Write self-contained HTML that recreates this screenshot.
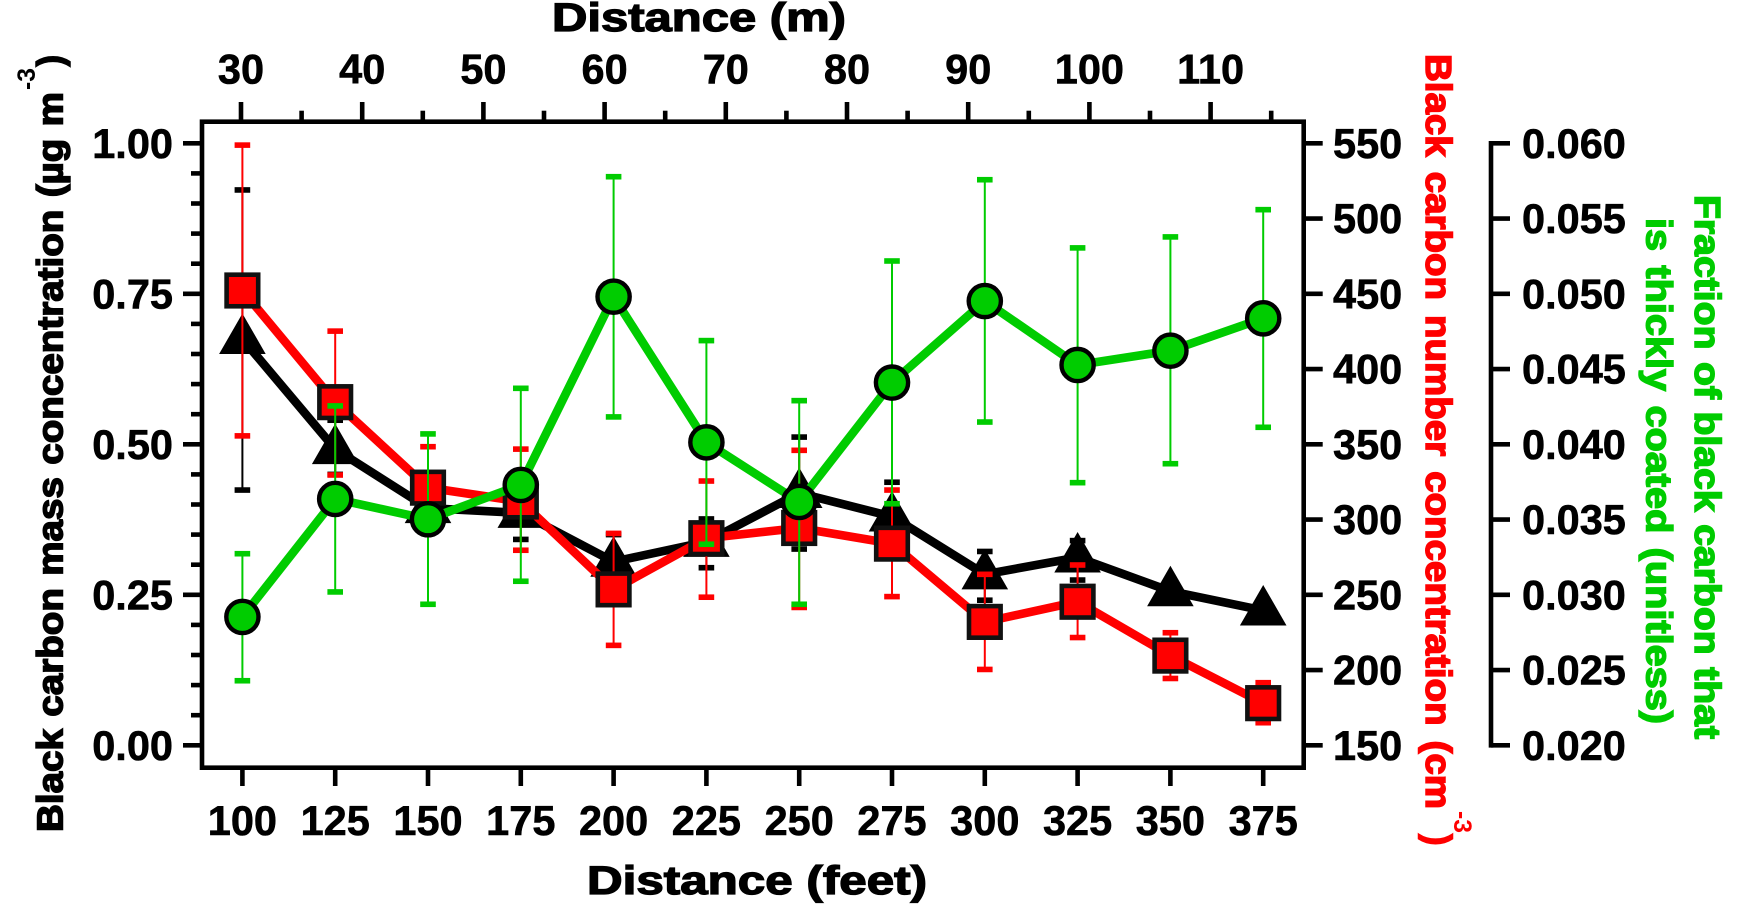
<!DOCTYPE html>
<html lang="en">
<head>
<meta charset="utf-8">
<title>Black carbon versus distance</title>
<style>
html,body{margin:0;padding:0;background:#fff;width:1747px;height:916px;overflow:hidden}
svg{display:block;font-family:"Liberation Sans",Arial,sans-serif}
.tick-label{font-size:41.5px;font-weight:700;fill:#000;stroke:#000;stroke-width:.6px}
.title{font-size:36px;font-weight:700;stroke-width:1.5px}
.title-x{font-size:40px;font-weight:700;stroke-width:1.3px}
.sup{font-size:25px;font-weight:700}
</style>
</head>
<body>
<svg id="chart" xmlns="http://www.w3.org/2000/svg" width="1747" height="916" viewBox="0 0 1747 916">
  <rect x="0" y="0" width="1747" height="916" fill="#fff"/>
  <g id="axes"></g>
  <g id="series"></g>
  <rect x="202" y="121.7" width="1101.7" height="646" fill="none" stroke="#000" stroke-width="4.6"/>

  <text class="title-x" x="552" y="31" fill="#000" stroke="#000" textLength="294" lengthAdjust="spacingAndGlyphs">Distance (m)</text>
  <text class="title-x" x="587" y="894" fill="#000" stroke="#000" textLength="340" lengthAdjust="spacingAndGlyphs">Distance (feet)</text>

  <text class="title" style="word-spacing:1.5px" transform="translate(62.5,832) rotate(-90)" fill="#000" stroke="#000" textLength="740" lengthAdjust="spacingAndGlyphs">Black carbon mass concentration (µg m</text>
  <text class="sup" transform="translate(35,90) rotate(-90)" fill="#000" textLength="22" lengthAdjust="spacingAndGlyphs">-3</text>
  <text class="title" transform="translate(62.5,66.5) rotate(-90)" fill="#000" stroke="#000" textLength="11.5" lengthAdjust="spacingAndGlyphs">)</text>

  <text class="title" style="word-spacing:4px" transform="translate(1426,54) rotate(90)" fill="#f00" stroke="#f00" textLength="755" lengthAdjust="spacingAndGlyphs">Black carbon number concentration (cm</text>
  <text class="sup" transform="translate(1454,811) rotate(90)" fill="#f00" textLength="22" lengthAdjust="spacingAndGlyphs">-3</text>
  <text class="title" transform="translate(1426,834) rotate(90)" fill="#f00" stroke="#f00" textLength="11.5" lengthAdjust="spacingAndGlyphs">)</text>

  <text class="title" style="word-spacing:1.5px" transform="translate(1695,195) rotate(90)" fill="#00cc00" stroke="#00cc00" textLength="544" lengthAdjust="spacingAndGlyphs">Fraction of black carbon that</text>
  <text class="title" style="word-spacing:3px" transform="translate(1646.7,218) rotate(90)" fill="#00cc00" stroke="#00cc00" textLength="506" lengthAdjust="spacingAndGlyphs">is thickly coated (unitless)</text>
</svg>
<script>
// ---- data ----
const distanceFeet = [100,125,150,175,200,225,250,275,300,325,350,375];
const feetTicks = [100,125,150,175,200,225,250,275,300,325,350,375];
const meterMajorTicks = [30,40,50,60,70,80,90,100,110];
const meterMinorTicks = [35,45,55,65,75,85,95,105,115];
const massTicks = ['0.00','0.25','0.50','0.75','1.00'];
const massMinorTicks = [0.05,0.10,0.15,0.20,0.30,0.35,0.40,0.45,0.55,0.60,0.65,0.70,0.80,0.85,0.90,0.95];
const numberTicks = [150,200,250,300,350,400,450,500,550];
const fractionTicks = ['0.020','0.025','0.030','0.035','0.040','0.045','0.050','0.055','0.060'];

const massValues = [0.675,0.492,0.394,0.386,0.305,0.338,0.419,0.380,0.284,0.312,0.256,0.224];
const massUpper  = [0.9225,0.54,0.44,0.43,0.350,0.376,0.512,0.437,0.322,0.34,0.265,0.235];
const massLower  = [0.424,0.45,0.36,0.342,0.26,0.295,0.326,0.32,0.241,0.2745,0.245,0.215];

const numberValues = [452.2,378,321.2,312,253.6,287.6,294.4,284,232,245.4,209.6,178];
const numberUpper  = [548.8,425.2,348.4,346.8,290.8,325.6,346,319.6,263.6,269.8,224.8,191.6];
const numberLower  = [355.6,329.6,294,279.6,216.4,248.4,241.6,248.8,200.4,221.6,194.4,165];

const fractionValues = [0.02853,0.03637,0.03502,0.0373,0.04981,0.04013,0.03617,0.0441,0.04952,0.04527,0.04622,0.04837];
const fractionUpper  = [0.03273,0.04255,0.04069,0.04372,0.05778,0.04689,0.0429,0.05218,0.05758,0.05305,0.05378,0.05559];
const fractionLower  = [0.02429,0.03019,0.02937,0.0309,0.04182,0.03336,0.02937,0.03605,0.04148,0.03745,0.03871,0.04113];

// ---- axis functions ----
const PLOT_BOTTOM = 745.3, PLOT_TOP = 143.3;
function xFeet(f){ return 242.4 + (f - 100) * 3.712; }
function xMeters(m){ return 241 + (m - 30) * 12.12; }
function yMass(v){ return PLOT_BOTTOM - (v - 0) / (1 - 0) * (PLOT_BOTTOM - PLOT_TOP); }
function yNumber(v){ return PLOT_BOTTOM - (v - 150) / (550 - 150) * (PLOT_BOTTOM - PLOT_TOP); }
function yFraction(v){ return PLOT_BOTTOM - (v - 0.02) / (0.06 - 0.02) * (PLOT_BOTTOM - PLOT_TOP); }

const NS = 'http://www.w3.org/2000/svg';
const axesG = document.getElementById('axes');
const seriesG = document.getElementById('series');

function make(tag, parent, props){
  const el = document.createElementNS(NS, tag);
  for (const k in props) el.setAttribute(k, props[k]);
  parent.appendChild(el);
  return el;
}
function tickLine(x1, y1, x2, y2, w){
  const el = make('line', axesG, {x1:x1, y1:y1, x2:x2, y2:y2, stroke:'#000', 'stroke-width':w});
  
  
  return el;
}
function tickText(str, x, y, anchor){
  const el = make('text', axesG, {x:x, y:y, 'text-anchor':anchor, class:'tick-label'});
  el.textContent = str;
  
  
  return el;
}

// ---- axes ----
feetTicks.forEach(function(f){
  tickLine(xFeet(f), 767.7, xFeet(f), 786, 4.6);
  tickText(String(f), xFeet(f), 835, 'middle');
});
meterMajorTicks.forEach(function(m){
  tickLine(xMeters(m), 122, xMeters(m), 102, 4.6);
  tickText(String(m), xMeters(m), 83.5, 'middle');
});
meterMinorTicks.forEach(function(m){
  tickLine(xMeters(m), 122, xMeters(m), 110.7, 4.6);
});
massTicks.forEach(function(t){
  const y = yMass(parseFloat(t));
  tickLine(183, y, 202, y, 4.6);
  tickText(t, 173, y + 14.5, 'end');
});
massMinorTicks.forEach(function(v){
  const y = yMass(v);
  tickLine(191, y, 202, y, 4.6);
});
numberTicks.forEach(function(t){
  const y = yNumber(t);
  tickLine(1303.7, y, 1322.7, y, 4.6);
  tickText(String(t), 1333, y + 14.5, 'start');
});
const fracSpine = make('line', axesG, {x1:1491, y1:yFraction(0.02) + 2.3, x2:1491, y2:yFraction(0.06) - 2.3, stroke:'#000', 'stroke-width':4.6});


fractionTicks.forEach(function(t){
  const y = yFraction(parseFloat(t));
  tickLine(1491, y, 1510, y, 4.6);
  tickText(t, 1522, y + 14.5, 'start');
});

// ---- series ----
function drawLine(group, values, yFn, color){
  const pts = values.map(function(v, i){ return xFeet(distanceFeet[i]) + ',' + yFn(v); }).join(' ');
  const el = make('polyline', group, {points:pts, fill:'none', stroke:color, 'stroke-width':8.6, 'stroke-linejoin':'miter'});
  
  
}
function drawErrors(group, upper, lower, yFn, color){
  upper.forEach(function(u, i){
    const x = xFeet(distanceFeet[i]);
    const yU = yFn(u), yL = yFn(lower[i]);
    const stem = make('line', group, {x1:x, y1:yU, x2:x, y2:yL, stroke:color, 'stroke-width':2});
    
    
    const capU = make('rect', group, {x:x - 7.8, y:yU - 2.8, width:15.6, height:5.6, fill:color});
    
    
    const capL = make('rect', group, {x:x - 7.8, y:yL - 2.8, width:15.6, height:5.6, fill:color});
    
    
  });
}

// black: mass concentration (triangles)
const massG = make('g', seriesG, {});


drawLine(massG, massValues, yMass, '#000');
drawErrors(massG, massUpper, massLower, yMass, '#000');
massValues.forEach(function(v, i){
  const x = xFeet(distanceFeet[i]), y = yMass(v);
  const tri = make('polygon', massG, {points:(x) + ',' + (y - 25.5) + ' ' + (x + 23.3) + ',' + (y + 15) + ' ' + (x - 23.3) + ',' + (y + 15), fill:'#000'});
  
  
});

// red: number concentration (squares)
const numberG = make('g', seriesG, {});


drawLine(numberG, numberValues, yNumber, '#f00');
drawErrors(numberG, numberUpper, numberLower, yNumber, '#f00');
numberValues.forEach(function(v, i){
  const x = xFeet(distanceFeet[i]), y = yNumber(v);
  const sq = make('rect', numberG, {x:x - 15.8, y:y - 15.8, width:31.6, height:31.6, fill:'#f00', stroke:'#111', 'stroke-width':4.6});
  
  
});

// green: thickly coated fraction (circles)
const fractionG = make('g', seriesG, {});


drawLine(fractionG, fractionValues, yFraction, '#00cc00');
drawErrors(fractionG, fractionUpper, fractionLower, yFraction, '#00cc00');
fractionValues.forEach(function(v, i){
  const c = make('circle', fractionG, {cx:xFeet(distanceFeet[i]), cy:yFraction(v), r:16.1, fill:'#00cc00', stroke:'#000', 'stroke-width':4.4});
  
  
});
</script>
</body>
</html>
